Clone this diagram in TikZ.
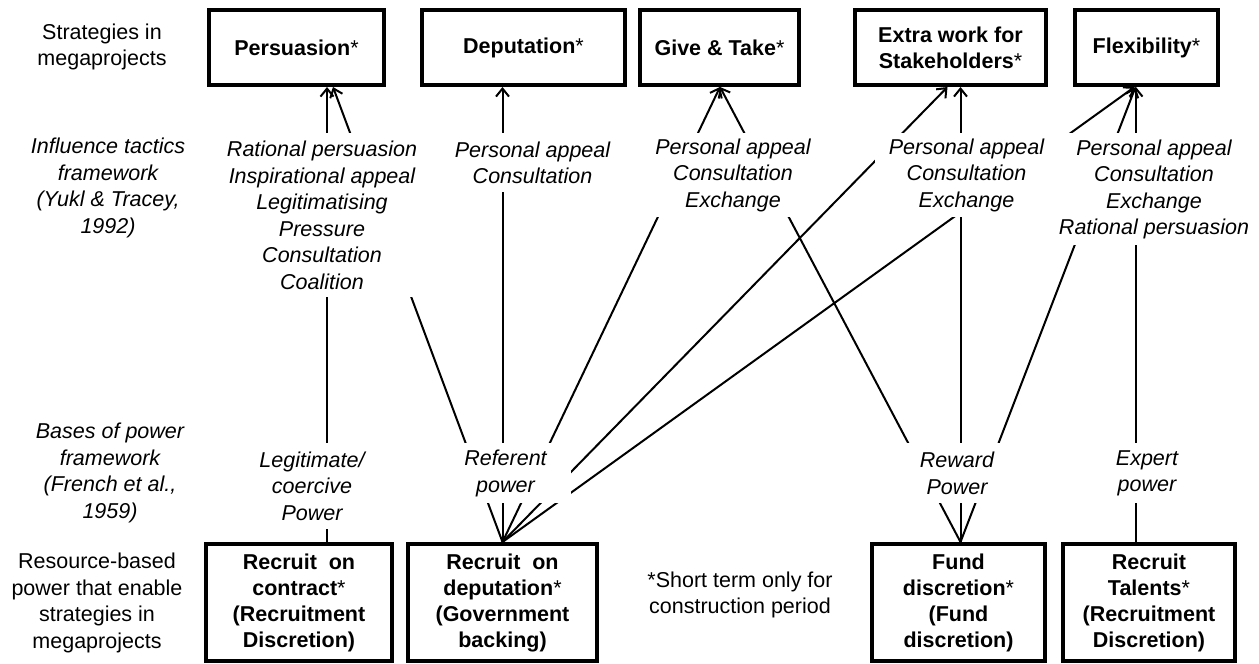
\documentclass[tikz,border=0pt]{standalone}
\usepackage{fontspec}
\setmainfont{Liberation Sans}
\usetikzlibrary{arrows.meta}
\newcommand\regast{{\mdseries*}}
\tikzset{
  box/.style={draw, line width=4pt, fill=white, inner sep=0pt, align=center,
    font=\bfseries\fontsize{21.5}{26}\selectfont},
  tac/.style={fill=white, inner sep=0pt, anchor=north, align=center,
    font=\itshape\fontsize{21.5}{26.5}\selectfont},
  lab/.style={inner sep=0pt, align=center, font=\fontsize{21.5}{26.5}\selectfont},
  ilab/.style={lab, font=\itshape\fontsize{21.5}{26.5}\selectfont},
  conn/.style={line width=2pt, -{Straight Barb[length=8pt,width=13pt]}}
}
\begin{document}
\begin{tikzpicture}[x=1pt,y=-1pt]
\useasboundingbox (0,0) rectangle (1259,664);
% strategy boxes
\node[box, minimum width=175, minimum height=75] (pers) at (296.5,47.5) {Persuasion\regast};
\node[box, minimum width=203, minimum height=75] (dep) at (523.5,47.5) {Deputation\regast};
\node[box, minimum width=159, minimum height=75] (gt) at (719.5,47.5) {Give \& Take\regast};
\node[box, minimum width=191, minimum height=75] (extra) at (950.5,47.5) {Extra work for\\Stakeholders\regast};
\node[box, minimum width=143, minimum height=75] (flex) at (1146.5,47.5) {Flexibility\regast};
% resource boxes
\node[box, minimum width=186, minimum height=117] (rcon) at (299,602.5) {Recruit\ \ on\\contract\regast\\(Recruitment\\Discretion)};
\node[box, minimum width=189, minimum height=117] (rdep) at (502.5,602.5) {Recruit\ \ on\\deputation\regast\\(Government\\backing)};
\node[box, minimum width=173, minimum height=117] (fund) at (958.5,602.5) {Fund\\discretion\regast\\(Fund\\discretion)};
\node[box, minimum width=172, minimum height=117] (tal) at (1149,602.5) {Recruit\\Talents\regast\\(Recruitment\\Discretion)};
% connectors
\draw[conn] ([xshift=28pt]rcon.north) -- ([xshift=30.5pt]pers.south);
\draw[conn] (rdep.north) -- ([xshift=36.5pt]pers.south);
\draw[conn] (rdep.north) -- ([xshift=-21pt]dep.south);
\draw[conn] (rdep.north) -- ([xshift=0.5pt]gt.south);
\draw[conn] (rdep.north) -- ([xshift=-3pt]extra.south);
\draw[conn] (rdep.north) -- ([xshift=-12pt]flex.south);
\draw[conn] ([xshift=2pt]fund.north) -- ([xshift=0.5pt]gt.south);
\draw[conn] ([xshift=2pt]fund.north) -- ([xshift=10pt]extra.south);
\draw[conn] ([xshift=2pt]fund.north) -- ([xshift=-11pt]flex.south);
\draw[conn] ([xshift=-13pt]tal.north) -- ([xshift=-10.5pt]flex.south);
% influence tactics
\node[tac, minimum width=200, minimum height=164] (t1) at (322,133) {Rational persuasion\\Inspirational appeal\\Legitimatising\\Pressure\\Consultation\\Coalition};
\node[tac, minimum width=160, minimum height=59] (t2) at (532.5,133) {Personal appeal\\Consultation};
\node[tac, minimum width=166, minimum height=84] (t3) at (733,133) {Personal appeal\\Consultation\\Exchange};
\node[tac, minimum width=183, minimum height=84] (t4) at (966.5,133) {Personal appeal\\Consultation\\Exchange};
\node[tac, minimum width=202, minimum height=112] (t5) at (1154,133) {Personal appeal\\Consultation\\Exchange\\Rational persuasion};
% bases of power
\node[tac, minimum width=125, minimum height=86] (b1) at (312,443) {Legitimate/\\coercive\\Power};
\node[tac, minimum width=131, minimum height=60] (b2) at (505.5,443) {Referent\\power};
\node[tac, minimum width=124, minimum height=60] (b3) at (957,443) {Reward\\Power};
\node[tac, minimum width=95, minimum height=60] (b4) at (1147,443) {Expert\\power};
% row labels
\node[lab] (l1) at (102,47) {Strategies in\\megaprojects};
\node[ilab] (l2) at (108,188) {Influence tactics\\framework\\(Yukl \& Tracey,\\1992)};
\node[ilab] (l3) at (110,473) {Bases of power\\framework\\(French et al.,\\1959)};
\node[lab] (l4) at (97,603) {Resource-based\\power that enable\\strategies in\\megaprojects};
\node[lab] (note) at (740,595) {*Short term only for\\construction period};
\end{tikzpicture}
\end{document}
